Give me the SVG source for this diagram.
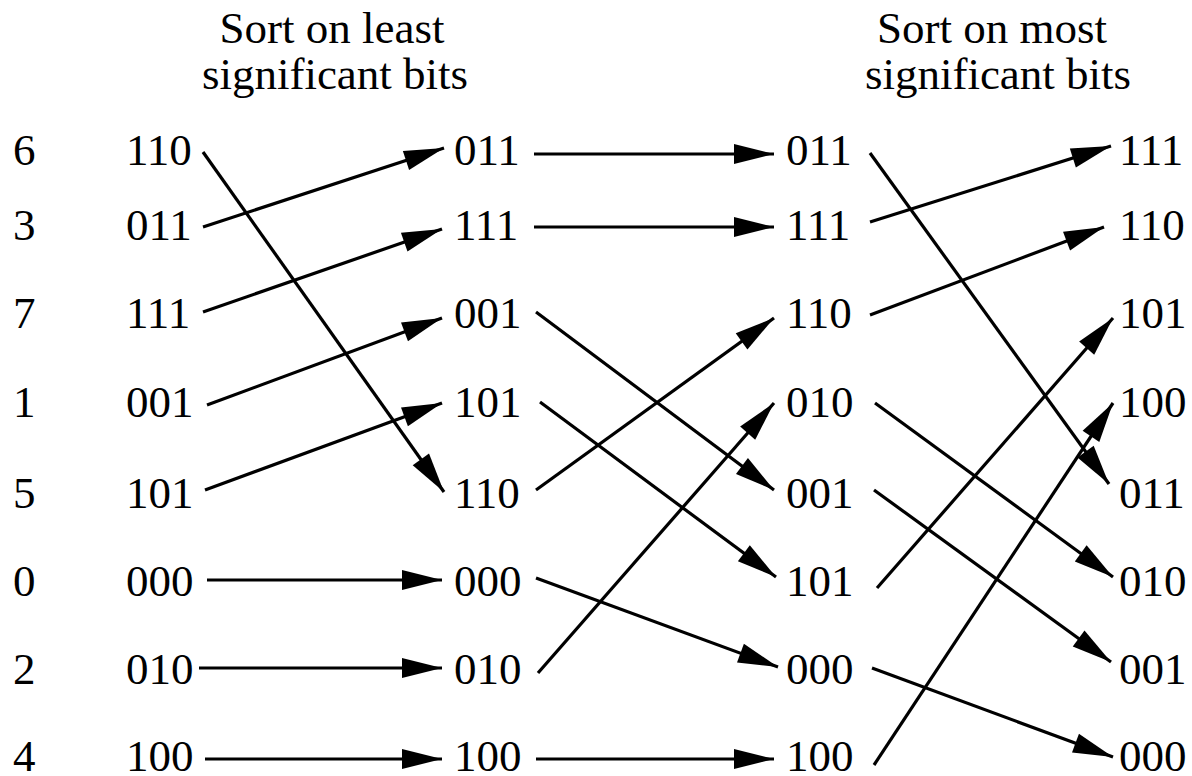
<svg xmlns="http://www.w3.org/2000/svg" width="1192" height="776" viewBox="0 0 1192 776">
<style>
text{font-family:"Liberation Serif","Times New Roman",serif;fill:#000}
.d{font-size:45px}
.h{font-size:45px;text-anchor:middle}
.c line{stroke:#000;stroke-width:3.2;marker-end:url(#ah)}
</style>
<defs>
<marker id="ah" markerUnits="userSpaceOnUse" markerWidth="40" markerHeight="20" refX="40" refY="10" orient="auto" overflow="visible">
<path d="M0,0 L40,10 L0,20 z" fill="#000"/>
</marker>
</defs>
<rect width="1192" height="776" fill="#fff"/>
<g id="headers">
<text class="h" x="332" y="43">Sort on least</text>
<text class="h" x="335" y="89">significant bits</text>
<text class="h" x="992" y="43">Sort on most</text>
<text class="h" x="998" y="89">significant bits</text>
</g>
<g id="index">
<text class="d" x="13" y="165">6</text>
<text class="d" x="13" y="240">3</text>
<text class="d" x="13" y="328">7</text>
<text class="d" x="13" y="417">1</text>
<text class="d" x="13" y="508">5</text>
<text class="d" x="13" y="596">0</text>
<text class="d" x="13" y="684">2</text>
<text class="d" x="13" y="771">4</text>
</g>
<g id="c1r1"><text class="d" x="126" y="165">110</text></g>
<g id="c1r2"><text class="d" x="126" y="240">011</text></g>
<g id="c1r3"><text class="d" x="126" y="328">111</text></g>
<g id="c1r4"><text class="d" x="126" y="417">001</text></g>
<g id="c1r5"><text class="d" x="126" y="508">101</text></g>
<g id="c1r6"><text class="d" x="126" y="596">000</text></g>
<g id="c1r7"><text class="d" x="126" y="684">010</text></g>
<g id="c1r8"><text class="d" x="126" y="771">100</text></g>
<g id="c2r1"><text class="d" x="454" y="165">011</text></g>
<g id="c2r2"><text class="d" x="454" y="240">111</text></g>
<g id="c2r3"><text class="d" x="454" y="328">001</text></g>
<g id="c2r4"><text class="d" x="454" y="417">101</text></g>
<g id="c2r5"><text class="d" x="454" y="508">110</text></g>
<g id="c2r6"><text class="d" x="454" y="596">000</text></g>
<g id="c2r7"><text class="d" x="454" y="684">010</text></g>
<g id="c2r8"><text class="d" x="454" y="771">100</text></g>
<g id="c3r1"><text class="d" x="786" y="165">011</text></g>
<g id="c3r2"><text class="d" x="786" y="240">111</text></g>
<g id="c3r3"><text class="d" x="786" y="328">110</text></g>
<g id="c3r4"><text class="d" x="786" y="417">010</text></g>
<g id="c3r5"><text class="d" x="786" y="508">001</text></g>
<g id="c3r6"><text class="d" x="786" y="596">101</text></g>
<g id="c3r7"><text class="d" x="786" y="684">000</text></g>
<g id="c3r8"><text class="d" x="786" y="771">100</text></g>
<g id="c4r1"><text class="d" x="1119" y="165">111</text></g>
<g id="c4r2"><text class="d" x="1119" y="240">110</text></g>
<g id="c4r3"><text class="d" x="1119" y="328">101</text></g>
<g id="c4r4"><text class="d" x="1119" y="417">100</text></g>
<g id="c4r5"><text class="d" x="1119" y="508">011</text></g>
<g id="c4r6"><text class="d" x="1119" y="596">010</text></g>
<g id="c4r7"><text class="d" x="1119" y="684">001</text></g>
<g id="c4r8"><text class="d" x="1119" y="771">000</text></g>
<g id="connectors" class="c">
<line x1="203" y1="152" x2="444" y2="492"/>
<line x1="203" y1="227" x2="444" y2="148"/>
<line x1="203" y1="312" x2="442" y2="229"/>
<line x1="207" y1="405" x2="442" y2="318"/>
<line x1="205" y1="490" x2="442" y2="403"/>
<line x1="207" y1="580" x2="442" y2="580"/>
<line x1="199" y1="668" x2="442" y2="668"/>
<line x1="205" y1="759" x2="442" y2="759"/>
<line x1="534" y1="154" x2="774" y2="154"/>
<line x1="534" y1="227" x2="774" y2="227"/>
<line x1="536" y1="312" x2="774" y2="490"/>
<line x1="540" y1="402" x2="776" y2="577"/>
<line x1="536" y1="490" x2="774" y2="318"/>
<line x1="536" y1="578" x2="778" y2="667"/>
<line x1="538" y1="673" x2="774" y2="403"/>
<line x1="536" y1="759" x2="774" y2="759"/>
<line x1="870" y1="153" x2="1109" y2="484"/>
<line x1="870" y1="222" x2="1111" y2="146"/>
<line x1="870" y1="315" x2="1104" y2="227"/>
<line x1="875" y1="403" x2="1113" y2="577"/>
<line x1="874" y1="490" x2="1111" y2="662"/>
<line x1="877" y1="588" x2="1113" y2="318"/>
<line x1="872" y1="668" x2="1113" y2="757"/>
<line x1="874" y1="765" x2="1113" y2="403"/>
</g>
</svg>
